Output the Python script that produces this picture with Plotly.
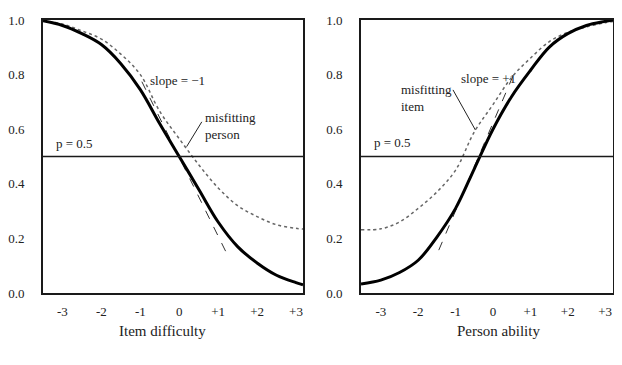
import plotly.graph_objects as go

# ---- data ----
x_left = [-3.5, -3.0, -2.5, -2.0, -1.5, -1.0, -0.5, 0.0, 0.5, 1.0, 1.5, 2.0, 2.5, 3.0, 3.18]
item_expected = [0.997, 0.98, 0.95, 0.91, 0.84, 0.745, 0.62, 0.50, 0.38, 0.26, 0.17, 0.11, 0.065, 0.038, 0.03]
person_misfit = [0.997, 0.985, 0.96, 0.93, 0.875, 0.80, 0.665, 0.565, 0.47, 0.385, 0.32, 0.28, 0.25, 0.237, 0.234]

x_right = [-3.53, -3.0, -2.5, -2.0, -1.5, -1.0, -0.5, 0.0, 0.5, 1.0, 1.5, 2.0, 2.5, 3.0, 3.21]
ability_expected = [0.033, 0.047, 0.075, 0.12, 0.205, 0.31, 0.455, 0.60, 0.72, 0.815, 0.90, 0.95, 0.98, 0.995, 1.0]
item_misfit = [0.232, 0.235, 0.26, 0.31, 0.37, 0.45, 0.59, 0.69, 0.79, 0.86, 0.92, 0.955, 0.975, 0.99, 0.995]

tangent_left_x = [-0.96, 1.22]
tangent_left_y = [0.774, 0.145]
tangent_right_x = [-1.45, 0.55]
tangent_right_y = [0.157, 0.80]

pointer_left_x = [0.58, 0.19]
pointer_left_y = [0.627, 0.536]
pointer_right_x = [-1.07, -0.47]
pointer_right_y = [0.744, 0.597]

p_half = 0.5
x_tickvals = [-3, -2, -1, 0, 1, 2, 3]
x_ticktext = ["-3", "-2", "-1", "0", "+1", "+2", "+3"]
y_tickvals = [0.0, 0.2, 0.4, 0.6, 0.8, 1.0]
y_ticktext = ["0.0", "0.2", "0.4", "0.6", "0.8", "1.0"]

SERIF = "Liberation Serif"
INK = "#1a1a1a"
TXT = "#222"

# the page body adds an 8px margin on every side; lay out in page pixels
# and keep the figure inside the visible body area
OFF = 8
W, H = 622 - 2 * OFF, 365 - 2 * OFF
def fx(px):
    return (px - OFF) / W
def fy(py):
    return 1 - (py - OFF) / H

fig = go.Figure()

def add_panel(xa, ya, xs, thick, dotted, tx, ty, px, py):
    fig.add_trace(go.Scatter(x=tx, y=ty, mode="lines", xaxis=xa, yaxis=ya,
                             line=dict(color="#333", width=1, dash="dash"), hoverinfo="skip"))
    fig.add_trace(go.Scatter(x=xs, y=dotted, mode="lines", xaxis=xa, yaxis=ya,
                             line=dict(color="#666", width=1.5, dash="dot", shape="spline"),
                             hoverinfo="skip"))
    fig.add_trace(go.Scatter(x=xs, y=thick, mode="lines", xaxis=xa, yaxis=ya,
                             line=dict(color="black", width=3, shape="spline"), hoverinfo="skip"))
    fig.add_trace(go.Scatter(x=px, y=py, mode="lines", xaxis=xa, yaxis=ya,
                             line=dict(color="#222", width=1), hoverinfo="skip"))

add_panel("x", "y", x_left, item_expected, person_misfit,
          tangent_left_x, tangent_left_y, pointer_left_x, pointer_left_y)
add_panel("x2", "y2", x_right, ability_expected, item_misfit,
          tangent_right_x, tangent_right_y, pointer_right_x, pointer_right_y)

for yr, dom in (("y", "x domain"), ("y2", "x2 domain")):
    fig.add_shape(type="line", xref=dom, yref=yr, x0=0, x1=1, y0=p_half, y1=p_half,
                  line=dict(color=INK, width=1.5))

axis_common = dict(showgrid=False, zeroline=False, showline=True, mirror=True,
                   linecolor=INK, linewidth=1.8, ticks="", automargin=False,
                   ticklabeloverflow="allow",
                   tickfont=dict(family=SERIF, size=13, color=TXT))

fig.update_layout(
    template="none",
    width=W, height=H,
    margin=dict(l=0, r=0, t=0, b=0),
    paper_bgcolor="white", plot_bgcolor="white",
    showlegend=False,
    xaxis=dict(domain=[fx(43), fx(303)], range=[-3.5, 3.18], anchor="y",
               tickvals=x_tickvals, ticktext=x_ticktext, ticklabelstandoff=5, **axis_common),
    yaxis=dict(domain=[fy(293), fy(20)], range=[0, 1], anchor="x",
               tickvals=y_tickvals, ticktext=y_ticktext, ticklabelstandoff=14, **axis_common),
    xaxis2=dict(domain=[fx(361), fx(613)], range=[-3.53, 3.21], anchor="y2",
                tickvals=x_tickvals, ticktext=x_ticktext, ticklabelstandoff=5, **axis_common),
    yaxis2=dict(domain=[fy(293), fy(20)], range=[0, 1], anchor="x2",
                tickvals=y_tickvals, ticktext=y_ticktext, ticklabelstandoff=14, **axis_common),
)

def note(text, x, y, xr, yr, xanchor="center", size=13):
    fig.add_annotation(text=text, x=x, y=y, xref=xr, yref=yr, showarrow=False,
                       xanchor=xanchor, yanchor="middle", align="left",
                       font=dict(family=SERIF, size=size, color=TXT))

note("slope = \u22121", -0.80, 0.78, "x", "y", xanchor="left")
note("misfitting<br>person", 0.61, 0.61, "x", "y", xanchor="left")
note("p = 0.5", -2.70, 0.546, "x", "y")
note("slope = +1", -0.91, 0.786, "x2", "y2", xanchor="left")
note("misfitting<br>item", -2.51, 0.714, "x2", "y2", xanchor="left")
note("p = 0.5", -2.69, 0.553, "x2", "y2")

fig.add_annotation(text="Item difficulty", xref="x domain", yref="paper", x=0.46, y=fy(341),
                   showarrow=False, font=dict(family=SERIF, size=15, color=TXT))
fig.add_annotation(text="Person ability", xref="x2 domain", yref="paper", x=0.72, y=fy(341),
                   showarrow=False, font=dict(family=SERIF, size=15, color=TXT))

fig.write_html("out.html")
